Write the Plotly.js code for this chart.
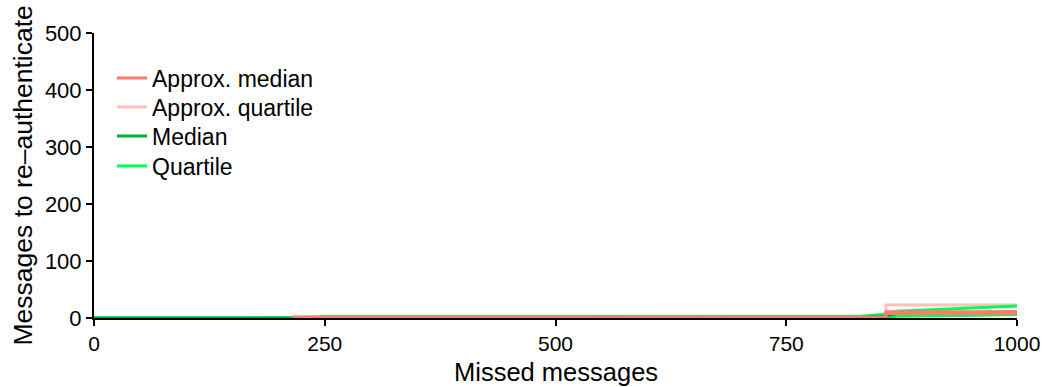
<!DOCTYPE html>
<html>
<head>
<meta charset="utf-8">
<script src="https://cdn.plot.ly/plotly-3.0.1.min.js"></script>
<style>html,body{margin:0;padding:0;background:#fff;}#chart{width:1047px;height:387px;}</style>
</head>
<body>
<div id="chart"></div>
<script>
// Exact (measured) series
const xExact = [0, 215, 250, 300, 350, 400, 450, 500, 550, 600, 650, 700, 750, 800, 830, 845, 858, 870, 900, 930, 960, 1000];
const medianVals = [0, 0, 1, 1, 1, 1, 1, 1, 1, 1, 1, 1, 1, 1, 1, 2, 3, 8, 9, 10, 10, 11];
const quartileUpper = [0, 0, 2, 2, 2, 2, 2, 2, 2, 2, 2, 2, 2, 2, 3, 5, 7, 12, 14, 17, 19, 21];
const quartileLower = [0, 0, 0, 0, 0, 0, 0, 0, 0, 0, 0, 0, 0, 0, 0, 1, 1, 3, 4, 5, 5, 6];

// Approximate series (step)
const xApprox = [215, 858, 1000];
const approxMedian = [1.5, 11, 11];
const approxMedianLow = [1, 8, 8];
const approxQuartileUpper = [2.5, 23, 23];
const approxQuartileLower = [0.5, 7, 7];

const xTicks = [0, 250, 500, 750, 1000];
const yTicks = [0, 100, 200, 300, 400, 500];

const cApproxMed = '#FF7A6E';
const cApproxQ = '#FFC0B8';
const cMed = '#00B035';
const cQ = '#00FF4C';

const traces = [
  {x: xApprox, y: approxQuartileUpper, mode: 'lines', line: {color: cApproxQ, width: 3, shape: 'hv'}, name: 'Approx. quartile', legend: 'legend2'},
  {x: xApprox, y: approxQuartileLower, mode: 'lines', line: {color: cApproxQ, width: 3, shape: 'hv'}, showlegend: false},
  {x: xExact, y: quartileLower, mode: 'lines', line: {color: cQ, width: 3}, showlegend: false},
  {x: xExact, y: quartileUpper, mode: 'lines', line: {color: cQ, width: 3}, name: 'Quartile', legend: 'legend4'},
  {x: xExact, y: medianVals, mode: 'lines', line: {color: cMed, width: 3}, name: 'Median', legend: 'legend3'},
  {x: xApprox, y: approxMedianLow, mode: 'lines', line: {color: cApproxMed, width: 3, shape: 'hv'}, showlegend: false},
  {x: xApprox, y: approxMedian, mode: 'lines', line: {color: cApproxMed, width: 3, shape: 'hv'}, name: 'Approx. median', legend: 'legend'}
];

const font = 'Liberation Sans, Arial, Helvetica, sans-serif';
const legendBase = {x: 0.0195, xanchor: 'left', yanchor: 'middle', bgcolor: 'rgba(0,0,0,0)', font: {size: 23, color: '#000'}};
const layout = {
  width: 1047, height: 387,
  margin: {l: 94, r: 30, t: 33, b: 69},
  paper_bgcolor: '#fff', plot_bgcolor: '#fff',
  font: {family: font, size: 23, color: '#000'},
  showlegend: true,
  legend: Object.assign({}, legendBase, {y: 0.8421}),
  legend2: Object.assign({}, legendBase, {y: 0.7404}),
  legend3: Object.assign({}, legendBase, {y: 0.6386}),
  legend4: Object.assign({}, legendBase, {y: 0.5333}),
  xaxis: {
    range: [0, 1000], tickvals: xTicks, ticktext: xTicks.map(String),
    showgrid: false, zeroline: false, showline: true, linecolor: '#000', linewidth: 2,
    ticks: 'outside', ticklen: 6, tickwidth: 2, tickcolor: '#000',
    tickfont: {size: 21, color: '#000'}
  },
  yaxis: {
    range: [0, 500], tickvals: yTicks, ticktext: yTicks.map(String),
    showgrid: false, zeroline: false, showline: true, linecolor: '#000', linewidth: 2,
    ticks: 'outside', ticklen: 6, tickwidth: 2, tickcolor: '#000',
    tickfont: {size: 22, color: '#000'}
  },
  annotations: [
    {text: 'Missed messages', xref: 'paper', yref: 'paper', x: 0.5, y: 0, xanchor: 'center', yanchor: 'middle', yshift: -54, borderpad: 0, showarrow: false, font: {size: 25.5, color: '#000'}},
    {text: 'Messages to re\u2013authenticate', xref: 'paper', yref: 'paper', x: 0, y: 0.5, xanchor: 'center', yanchor: 'middle', xshift: -72, borderpad: 0, textangle: -90, showarrow: false, font: {size: 26.5, color: '#000'}}
  ]
};

Plotly.newPlot('chart', traces, layout, {displayModeBar: false, staticPlot: true});
</script>
</body>
</html>
